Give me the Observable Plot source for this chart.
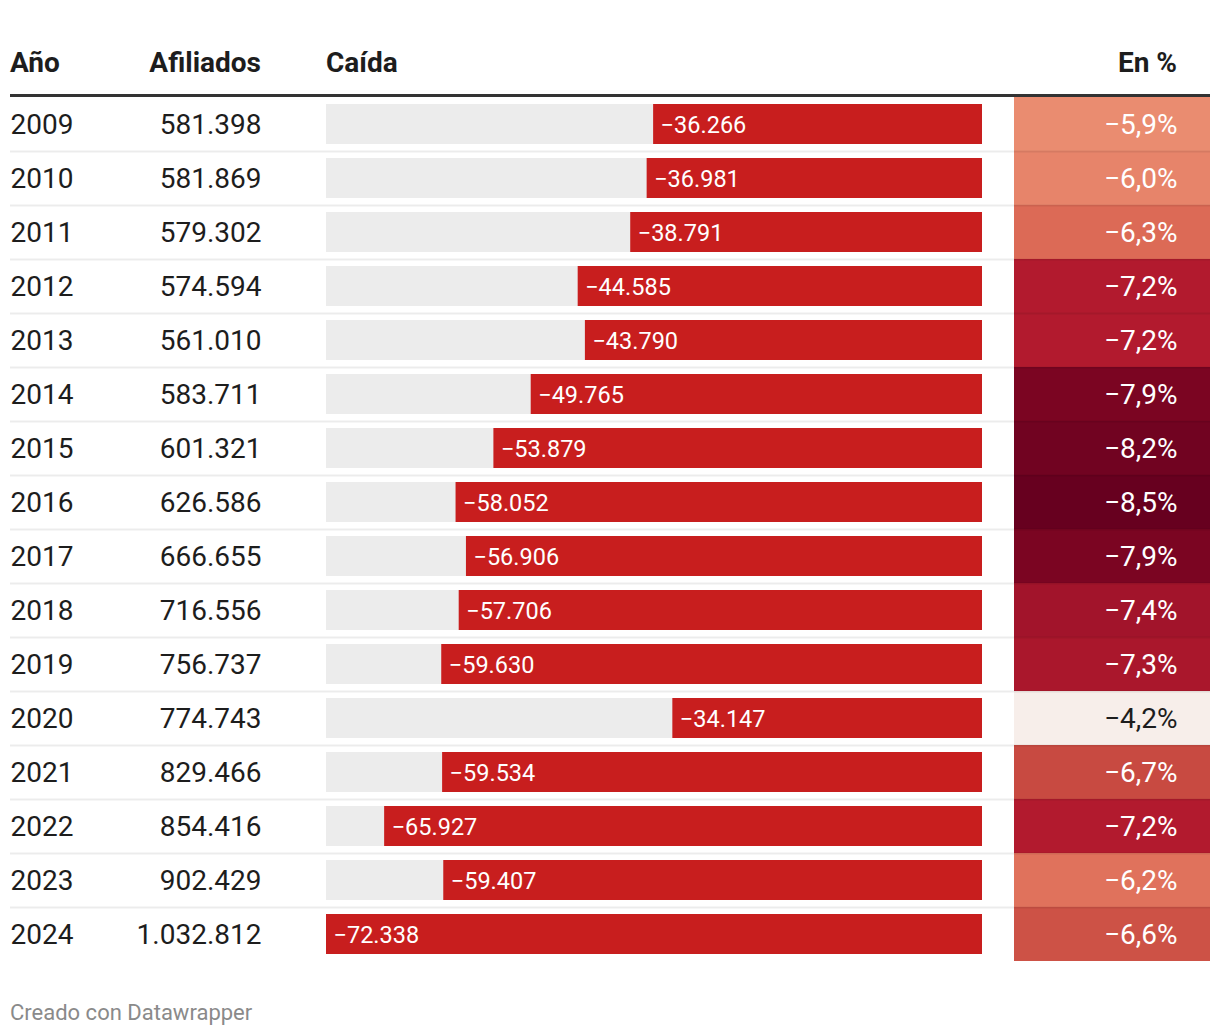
<!DOCTYPE html>
<html>
<head>
<meta charset="utf-8">
<script src="https://cdn.jsdelivr.net/npm/d3@7"></script>
<script src="https://cdn.jsdelivr.net/npm/@observablehq/plot@0.6"></script>
<style>
  html, body { margin: 0; padding: 0; background: #fff; }
  body { width: 1220px; height: 1036px; font-family: Roboto, "Noto Sans", sans-serif; color: #1d1d1d; position: relative; overflow: hidden; }
  #header { position: absolute; left: 10px; top: 0; width: 1200px; height: 94px; border-bottom: 3px solid #333; }
  #header span { position: absolute; top: 49px; font-size: 28px; font-weight: 700; line-height: 1; white-space: nowrap; }
  #body { position: absolute; left: 0; top: 97px; display: flex; }
  #body svg { display: block; }
  #footer { position: absolute; left: 10px; top: 1002px; font-size: 22px; color: #8a8a8a; line-height: 1; }
</style>
</head>
<body>
<div id="header"></div>
<div id="body"></div>
<div id="footer">Creado con Datawrapper</div>
<script>
// ---- data ----
const years = [2009, 2010, 2011, 2012, 2013, 2014, 2015, 2016, 2017, 2018, 2019, 2020, 2021, 2022, 2023, 2024];
const afiliados = [581398, 581869, 579302, 574594, 561010, 583711, 601321, 626586, 666655, 716556, 756737, 774743, 829466, 854416, 902429, 1032812];
const caida = [-36266, -36981, -38791, -44585, -43790, -49765, -53879, -58052, -56906, -57706, -59630, -34147, -59534, -65927, -59407, -72338];
const enPct = [-5.9, -6.0, -6.3, -7.2, -7.2, -7.9, -8.2, -8.5, -7.9, -7.4, -7.3, -4.2, -6.7, -7.2, -6.2, -6.6];
const headers = ["Año", "Afiliados", "Caída", "En %"];

// ---- helpers ----
const es = d3.formatLocale({decimal: ",", thousands: ".", grouping: [3], currency: ["", "€"], minus: "\u2212"});
const fmtInt = es.format(",d");
const fmtPct = es.format(".1f");

const rows = years.map((year, i) => ({
  year, afil: afiliados[i], caida: caida[i], drop: -caida[i], pct: enPct[i]
}));
const maxDrop = d3.max(rows, d => d.drop);

// ---- header ----
const header = document.getElementById("header");
const hpos = [
  {left: "0px"},
  {right: (1200 - 251) + "px"},
  {left: "316px"},
  {right: (1200 - 1167) + "px"}
];
headers.forEach((h, i) => {
  const s = document.createElement("span");
  s.textContent = h;
  Object.assign(s.style, hpos[i]);
  header.appendChild(s);
});

const rowH = 54;
const H = rowH * years.length;
const sepColor = "#000";
const sepOpacity = 0.075;

// ---- main plot: year, afiliados, bars ----
const main = Plot.plot({
  width: 1014,
  height: H,
  marginLeft: 10,
  marginRight: 0,
  marginTop: 0,
  marginBottom: 0,
  style: {fontFamily: "Roboto, sans-serif", background: "transparent", overflow: "visible"},
  x: {domain: [maxDrop, 0], range: [326, 982], axis: null},
  y: {type: "band", domain: years, padding: 0, axis: null},
  marks: [
    Plot.ruleY(years.slice(0, -1), {y: d => d, dy: rowH / 2, stroke: sepColor, strokeOpacity: sepOpacity, strokeWidth: 2}),
    Plot.barX(rows, {y: "year", x1: maxDrop, x2: 0, fill: "#ececec", insetTop: 7, insetBottom: 7}),
    Plot.barX(rows, {y: "year", x1: "drop", x2: 0, fill: "#c81e1e", insetTop: 7, insetBottom: 7}),
    Plot.text(rows, {y: "year", x: "drop", text: d => fmtInt(d.caida), textAnchor: "start", dx: 7, dy: 0.5, fill: "#fff", fontSize: 23.5}),
    Plot.text(rows, {y: "year", frameAnchor: "left", dy: 1, text: d => String(d.year), textAnchor: "start", fill: "#1d1d1d", fontSize: 28}),
    Plot.text(rows, {y: "year", frameAnchor: "left", dx: 251, dy: 1, text: d => fmtInt(d.afil), textAnchor: "end", fill: "#1d1d1d", fontSize: 28})
  ]
});

// ---- percent column ----
const pctPlot = Plot.plot({
  width: 206,
  height: H,
  marginLeft: 0,
  marginRight: 10,
  marginTop: 0,
  marginBottom: 0,
  style: {fontFamily: "Roboto, sans-serif", background: "transparent", overflow: "visible"},
  y: {type: "band", domain: years, padding: 0, axis: null},
  color: {
    type: "linear",
    domain: [-8.5, -7.9, -7.2, -6.7, -6.3, -5.9, -4.2],
    range: ["#67001f", "#7b0522", "#b21a2e", "#c84a41", "#dc6a56", "#ea8c70", "#f7eeea"],
    clamp: true
  },
  marks: [
    Plot.cell(rows, {y: "year", fill: "pct", inset: 0}),
    Plot.ruleY(years.slice(0, -1), {y: d => d, dy: rowH / 2, stroke: sepColor, strokeOpacity: sepOpacity, strokeWidth: 2}),
    Plot.text(rows, {y: "year", frameAnchor: "right", dx: -33, dy: 1, textAnchor: "end",
      text: d => fmtPct(d.pct) + "%", fill: d => d.pct > -5 ? "#1d1d1d" : "#fff", fontSize: 28})
  ]
});

const body = document.getElementById("body");
body.appendChild(main);
body.appendChild(pctPlot);
</script>
</body>
</html>
